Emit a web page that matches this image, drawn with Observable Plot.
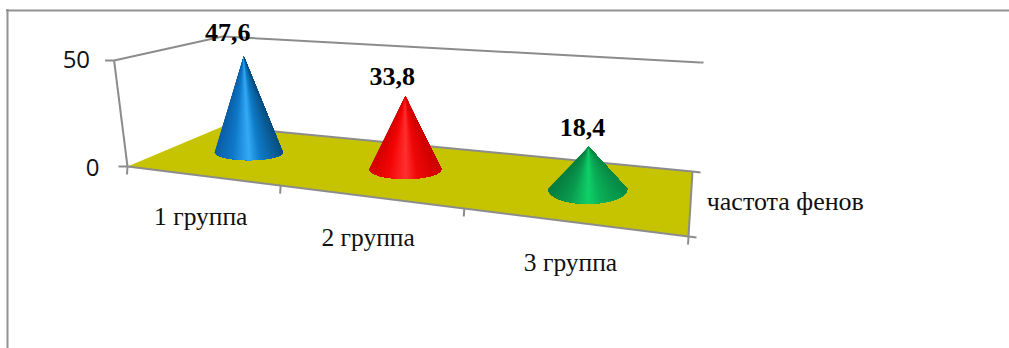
<!DOCTYPE html>
<html>
<head>
<meta charset="utf-8">
<script src="https://cdn.jsdelivr.net/npm/d3@7"></script>
<script src="https://cdn.jsdelivr.net/npm/@observablehq/plot@0.6"></script>
<style>
  html, body { margin: 0; padding: 0; background: #fff; overflow: hidden; }
  svg { display: block; }
</style>
</head>
<body>
<div id="chart"></div>
<script>
// Values
const groups = ["1 группа", "2 группа", "3 группа"];
const frequencies = [47.6, 33.8, 18.4];
const valueTicks = [0, 50];
const seriesTitle = "частота фенов";

// Box geometry: screen corners of the floor and of the plane at the axis maximum
const floorCorners = [[127, 166], [688, 236], [692, 171], [222, 126]];
const topCorners = [[113.6, 60], [698, 108], [700, 62], [222, 36]];
const valueMax = 50;

// Cone drawing styles
const coneDepth = [0.5, 0.5, 0.5];
const coneRadii = [[34, 8], [36, 10], [39.5, 15]];
const coneShift = [1, 3, 2];
const coneLean = [-5, 0, 1];
const shadeStops = [0, 0.25, 0.5, 0.66, 1];
const coneShades = [
  ["#0d5fa5", "#0f78c8", "#35aaf5", "#0f7cc8", "#0a4f80"],
  ["#d40000", "#f40606", "#ff3030", "#f00808", "#cc0000"],
  ["#067e3e", "#0a9a50", "#10d068", "#0bb058", "#078a46"]
];
const labelOffsets = [[-16, -24], [-13, -20], [-6, -19]];
const valueLabelOffsets = [[-19, 2], [-15, 0]];

// Maps the unit square onto a screen quadrilateral
function quadProjection([p0, p1, p2, p3]) {
  const dx1 = p1[0] - p2[0], dx2 = p3[0] - p2[0], sx = p0[0] - p1[0] + p2[0] - p3[0];
  const dy1 = p1[1] - p2[1], dy2 = p3[1] - p2[1], sy = p0[1] - p1[1] + p2[1] - p3[1];
  const den = dx1 * dy2 - dx2 * dy1;
  const g = (sx * dy2 - dx2 * sy) / den, h = (dx1 * sy - sx * dy1) / den;
  const a = p1[0] - p0[0] + g * p1[0], b = p3[0] - p0[0] + h * p3[0];
  const d = p1[1] - p0[1] + g * p1[1], e = p3[1] - p0[1] + h * p3[1];
  return (s, t) => {
    const w = g * s + h * t + 1;
    return [(a * s + b * t + p0[0]) / w, (d * s + e * t + p0[1]) / w];
  };
}
const floorAt = quadProjection(floorCorners);
const topAt = quadProjection(topCorners);
// Category position (0..n), depth (0..1), value -> screen point
function project(u, depth, value) {
  const s = u / groups.length;
  const f = floorAt(s, depth), c = topAt(s, depth), k = value / valueMax;
  return [f[0] + (c[0] - f[0]) * k, f[1] + (c[1] - f[1]) * k];
}
const pt = ([x, y]) => ({x, y});

const coneApex = i => {
  const [bx] = project(i + 0.5, coneDepth[i], 0);
  const [, ay] = project(i + 0.5, coneDepth[i], frequencies[i]);
  return [bx + coneShift[i] + coneLean[i], ay];
};

// A cone is a stack of fans from the apex to the near half of its base. Each fan
// starts one step further round the base and paints over the previous one, which
// shades the surface across the base without seams between the slices.
function coneFans(i) {
  const [bx, cy] = project(i + 0.5, coneDepth[i], 0);
  const cx = bx + coneShift[i];
  const apex = coneApex(i);
  const [rx, ry] = coneRadii[i];
  const shade = d3.scaleLinear(shadeStops, coneShades[i]);
  const rows = [];
  const step = 2;
  // Fans are stacked from the left end of the base to the right
  for (const start of d3.range(0, 180, step)) {
    const a0 = 180 - start;
    const fill = shade((Math.cos(a0 * Math.PI / 180) + 1) / 2);
    const id = `${i}-${start}`;
    rows.push({id, fill, x: apex[0], y: apex[1]});
    for (const a of d3.range(a0, -0.5, -step)) {
      const r = a * Math.PI / 180;
      rows.push({id, fill, x: cx + rx * Math.cos(r), y: cy + ry * Math.sin(r)});
    }
  }
  return rows;
}

const segment = (a, b) => [{x1: a[0], y1: a[1], x2: b[0], y2: b[1]}];
const grayLine = {x1: "x1", y1: "y1", x2: "x2", y2: "y2", stroke: "#8c8c8c", strokeWidth: 2};

const frontTicks = d3.range(0, groups.length + 1).map(u => {
  const p = project(u, 0, 0);
  return {x1: p[0], y1: p[1], x2: p[0] - 0.5, y2: p[1] + 8};
});
const valueTickMarks = valueTicks.map((v, i) => {
  const p = project(0, 0, v);
  return {x1: p[0] - 9, y1: p[1], x2: p[0], y2: p[1], v, dx: valueLabelOffsets[i][0], dy: valueLabelOffsets[i][1]};
});
const rightTicks = [0, 1].map(d => {
  const p = project(groups.length, d, 0);
  return {x1: p[0], y1: p[1], x2: p[0] + 8, y2: p[1] + 1};
});

const floorPoly = [[0, 0], [3, 0], [3, 1], [0, 1]].map(([u, d]) => pt(project(u, d, 0)));

const plot = Plot.plot({
  width: 1009,
  height: 348,
  margin: 0,
  x: {domain: [0, 1009], range: [0, 1009], axis: null},
  y: {domain: [0, 348], range: [0, 348], axis: null},
  color: {type: "identity"},
  style: {background: "#fff"},
  marks: [
    // Frame around the chart area
    Plot.ruleX([7], {y1: 9, y2: 348, stroke: "#929292", strokeWidth: 2}),
    Plot.ruleY([10], {x1: 6, x2: 1009, stroke: "#929292", strokeWidth: 2}),
    // Walls
    Plot.link(segment(project(0, 0, valueMax), project(0, 1, valueMax)), grayLine),
    Plot.link(segment(project(0, 1, valueMax), project(3, 1, valueMax)), grayLine),
    Plot.link(segment(project(0, 0, 0), project(0, 0, valueMax)), grayLine),
    // Floor
    Plot.line(floorPoly, {x: "x", y: "y", fill: "#c6c400", stroke: "none"}),
    Plot.link(segment(project(0, 1, 0), project(3, 1, 0)), grayLine),
    Plot.link(segment(project(3, 1, 0), project(3, 0, 0)), grayLine),
    Plot.link(segment(project(0, 0, 0), project(3, 0, 0)), grayLine),
    // Ticks
    Plot.link(frontTicks, grayLine),
    Plot.link(valueTickMarks, grayLine),
    Plot.link(rightTicks, grayLine),
    Plot.link(segment(project(3, 1, valueMax), [project(3, 1, valueMax)[0] + 3, project(3, 1, valueMax)[1]]), grayLine),
    // Cones
    ...groups.map((g, i) => Plot.line(coneFans(i), {
      x: "x", y: "y", z: "id", fill: "fill", stroke: "none"
    })),
    // Value labels
    Plot.text(groups.map((g, i) => {
      const p = coneApex(i);
      return {x: p[0] + labelOffsets[i][0], y: p[1] + labelOffsets[i][1], label: frequencies[i].toFixed(1).replace(".", ",")};
    }), {x: "x", y: "y", text: "label", fontFamily: "Liberation Serif", fontWeight: "bold", fontSize: 26, fill: "#000"}),
    // Category labels
    Plot.text(groups, {
      x: (g, i) => project(i + 0.5, 0, 0)[0],
      y: (g, i) => project(i + 0.5, 0, 0)[1] + 41,
      text: d => d, fontFamily: "Liberation Serif", fontSize: 25.5, fill: "#111"
    }),
    // Value axis labels
    Plot.text(valueTickMarks, {
      x: d => d.x1 + d.dx, y: d => d.y1 + d.dy, text: d => String(d.v), textAnchor: "end",
      fontFamily: "Open Sans", fontSize: 24, fill: "#111"
    }),
    // Depth axis title
    Plot.text([seriesTitle], {
      x: () => project(3, 0.5, 0)[0] + 16,
      y: () => project(3, 0.5, 0)[1] + 1,
      text: d => d, textAnchor: "start", fontFamily: "Liberation Serif", fontSize: 26, fill: "#111"
    })
  ]
});
document.getElementById("chart").append(plot);
</script>
</body>
</html>
